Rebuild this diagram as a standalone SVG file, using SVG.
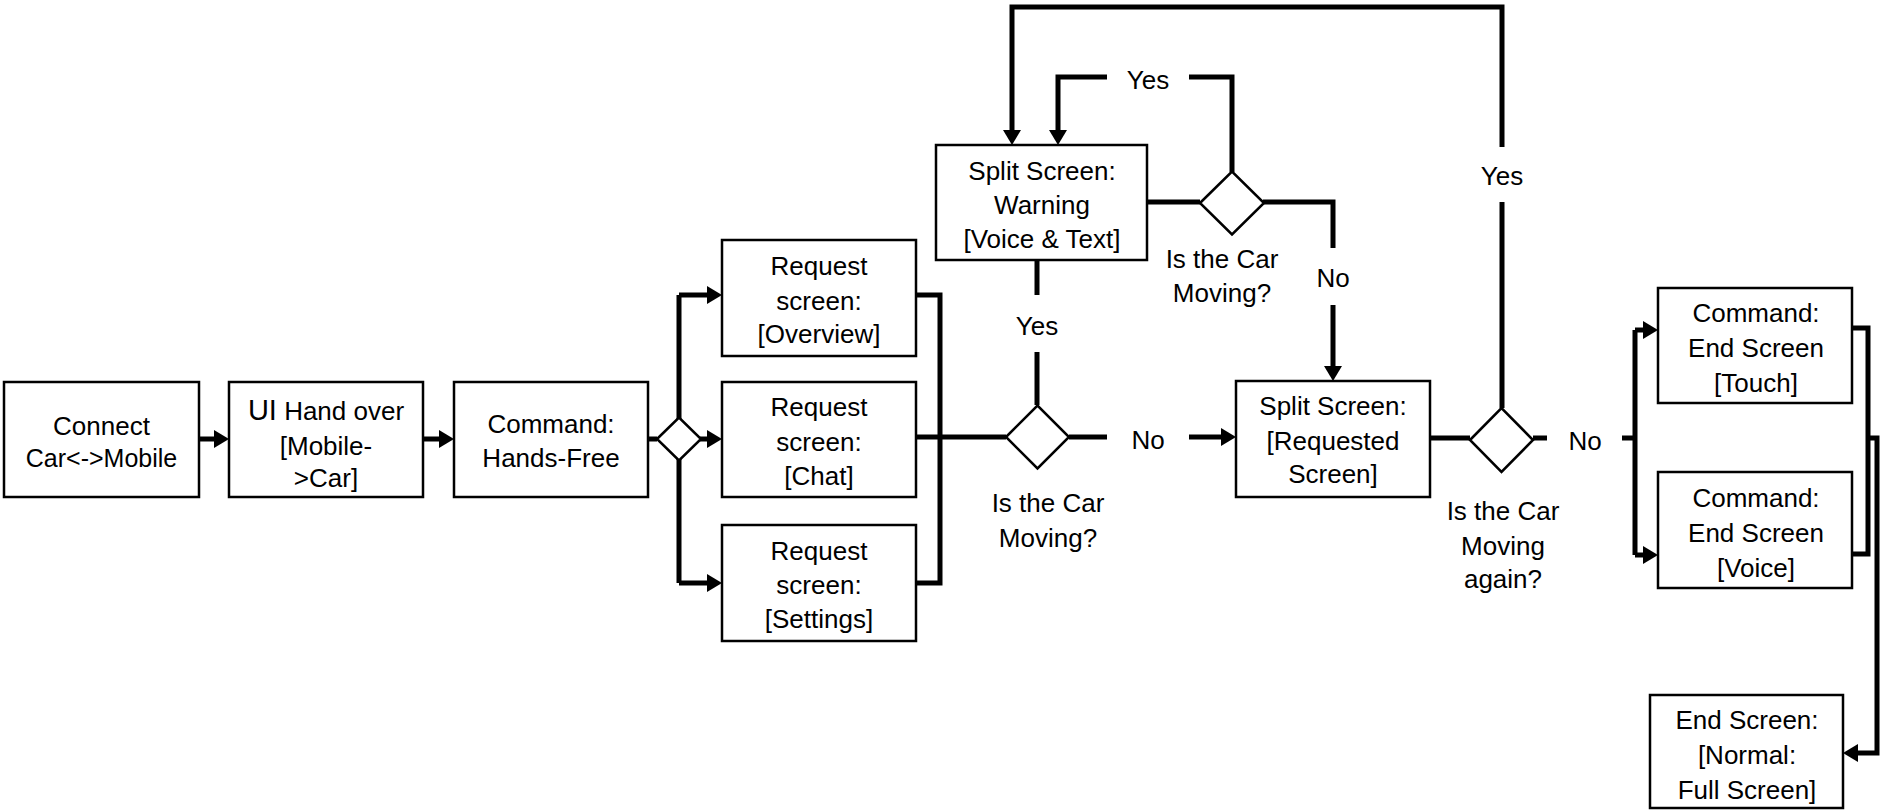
<svg xmlns="http://www.w3.org/2000/svg" width="1881" height="810" viewBox="0 0 1881 810">
<style>
.box{fill:#fff;stroke:#000;stroke-width:2.5}
.dia{fill:#fff;stroke:#000;stroke-width:2.5}
.c{fill:none;stroke:#000;stroke-width:5}
.a{marker-end:url(#ah)}
text{font-family:"Liberation Sans",Arial,sans-serif;font-size:26px;text-anchor:middle;fill:#000}
</style>
<defs>
<marker id="ah" markerUnits="userSpaceOnUse" markerWidth="16" markerHeight="18" refX="7" refY="9" orient="auto">
<path d="M0,0 L15,9 L0,18 z" fill="#000"/>
</marker>
</defs>
<rect width="1881" height="810" fill="#fff"/>
<g id="connectors">
<path class="c a" d="M199,439 H221"/>
<path class="c a" d="M423,439 H446"/>
<path class="c" d="M648,439 H657"/>
<path class="c" d="M679,295 V583"/>
<path class="c a" d="M679,295 H714"/>
<path class="c a" d="M700,439 H714"/>
<path class="c a" d="M679,583 H714"/>
<path class="c" d="M916,295 H940 V583 H916"/>
<path class="c" d="M916,437 H1006"/>
<path class="c" d="M1069,437 H1107"/>
<path class="c a" d="M1189,437 H1228"/>
<path class="c" d="M1037,260 V295"/>
<path class="c" d="M1037,352 V405"/>
<path class="c" d="M1147,202 H1200"/>
<path class="c" d="M1232,172 V77 H1189"/>
<path class="c a" d="M1107,77 H1058 V137"/>
<path class="c" d="M1263,202 H1333 V248"/>
<path class="c a" d="M1333,305 V373"/>
<path class="c" d="M1430,438 H1470"/>
<path class="c" d="M1533,438 H1547"/>
<path class="c" d="M1622,438 H1635"/>
<path class="c" d="M1502,408 V202"/>
<path class="c a" d="M1502,147 V7 H1012 V137"/>
<path class="c" d="M1635,330 V555"/>
<path class="c a" d="M1635,330 H1650"/>
<path class="c a" d="M1635,555 H1650"/>
<path class="c" d="M1852,328 H1868 V554 H1852"/>
<path class="c a" d="M1868,438 H1877 V753 H1851"/>
<text x="1148" y="89">Yes</text>
<text x="1037" y="335">Yes</text>
<text x="1502" y="185">Yes</text>
<text x="1333" y="287">No</text>
<text x="1148" y="449">No</text>
<text x="1585" y="450">No</text>
</g>
<g id="n-connect">
<rect class="box" x="4" y="382" width="195" height="115"/>
<text x="101.5" y="435">Connect</text>
<text x="101.5" y="467" style="font-size:25px">Car&lt;-&gt;Mobile</text>
</g>
<g id="n-handover">
<rect class="box" x="229" y="382" width="194" height="115"/>
<text x="326" y="420"><tspan style="font-size:29px">UI</tspan> Hand over</text>
<text x="326" y="455">[Mobile-</text>
<text x="326" y="487">&gt;Car]</text>
</g>
<g id="n-handsfree">
<rect class="box" x="454" y="382" width="194" height="115"/>
<text x="551" y="433">Command:</text>
<text x="551" y="467">Hands-Free</text>
</g>
<g id="d-choice">
<polygon class="dia" points="657,439 679,417.5 701,439 679,460.5"/>
</g>
<g id="n-overview">
<rect class="box" x="722" y="240" width="194" height="116"/>
<text x="819" y="275">Request</text>
<text x="819" y="310">screen:</text>
<text x="819" y="343">[Overview]</text>
</g>
<g id="n-chat">
<rect class="box" x="722" y="382" width="194" height="115"/>
<text x="819" y="416">Request</text>
<text x="819" y="451">screen:</text>
<text x="819" y="485">[Chat]</text>
</g>
<g id="n-settings">
<rect class="box" x="722" y="525" width="194" height="116"/>
<text x="819" y="560">Request</text>
<text x="819" y="594">screen:</text>
<text x="819" y="628">[Settings]</text>
</g>
<g id="d-moving1">
<polygon class="dia" points="1006,437 1037.5,405.5 1069,437 1037.5,468.5"/>
<text x="1048" y="512">Is the Car</text>
<text x="1048" y="547">Moving?</text>
</g>
<g id="n-warning">
<rect class="box" x="936" y="145" width="211" height="115"/>
<text x="1042" y="180">Split Screen:</text>
<text x="1042" y="214">Warning</text>
<text x="1042" y="248">[Voice &amp; Text]</text>
</g>
<g id="d-moving2">
<polygon class="dia" points="1200,203 1232,171.5 1264,203 1232,234.5"/>
<text x="1222" y="268">Is the Car</text>
<text x="1222" y="302">Moving?</text>
</g>
<g id="n-requested">
<rect class="box" x="1236" y="381" width="194" height="116"/>
<text x="1333" y="415">Split Screen:</text>
<text x="1333" y="450">[Requested</text>
<text x="1333" y="483">Screen]</text>
</g>
<g id="d-moving3">
<polygon class="dia" points="1470,440 1501.5,408 1533,440 1501.5,472"/>
<text x="1503" y="520">Is the Car</text>
<text x="1503" y="555">Moving</text>
<text x="1503" y="588">again?</text>
</g>
<g id="n-touch">
<rect class="box" x="1658" y="288" width="194" height="115"/>
<text x="1756" y="322">Command:</text>
<text x="1756" y="357">End Screen</text>
<text x="1756" y="392">[Touch]</text>
</g>
<g id="n-voice">
<rect class="box" x="1658" y="472" width="194" height="116"/>
<text x="1756" y="507">Command:</text>
<text x="1756" y="542">End Screen</text>
<text x="1756" y="577">[Voice]</text>
</g>
<g id="n-end">
<rect class="box" x="1650" y="695" width="193" height="113"/>
<text x="1747" y="729">End Screen:</text>
<text x="1747" y="764">[Normal:</text>
<text x="1747" y="799">Full Screen]</text>
</g>
</svg>
